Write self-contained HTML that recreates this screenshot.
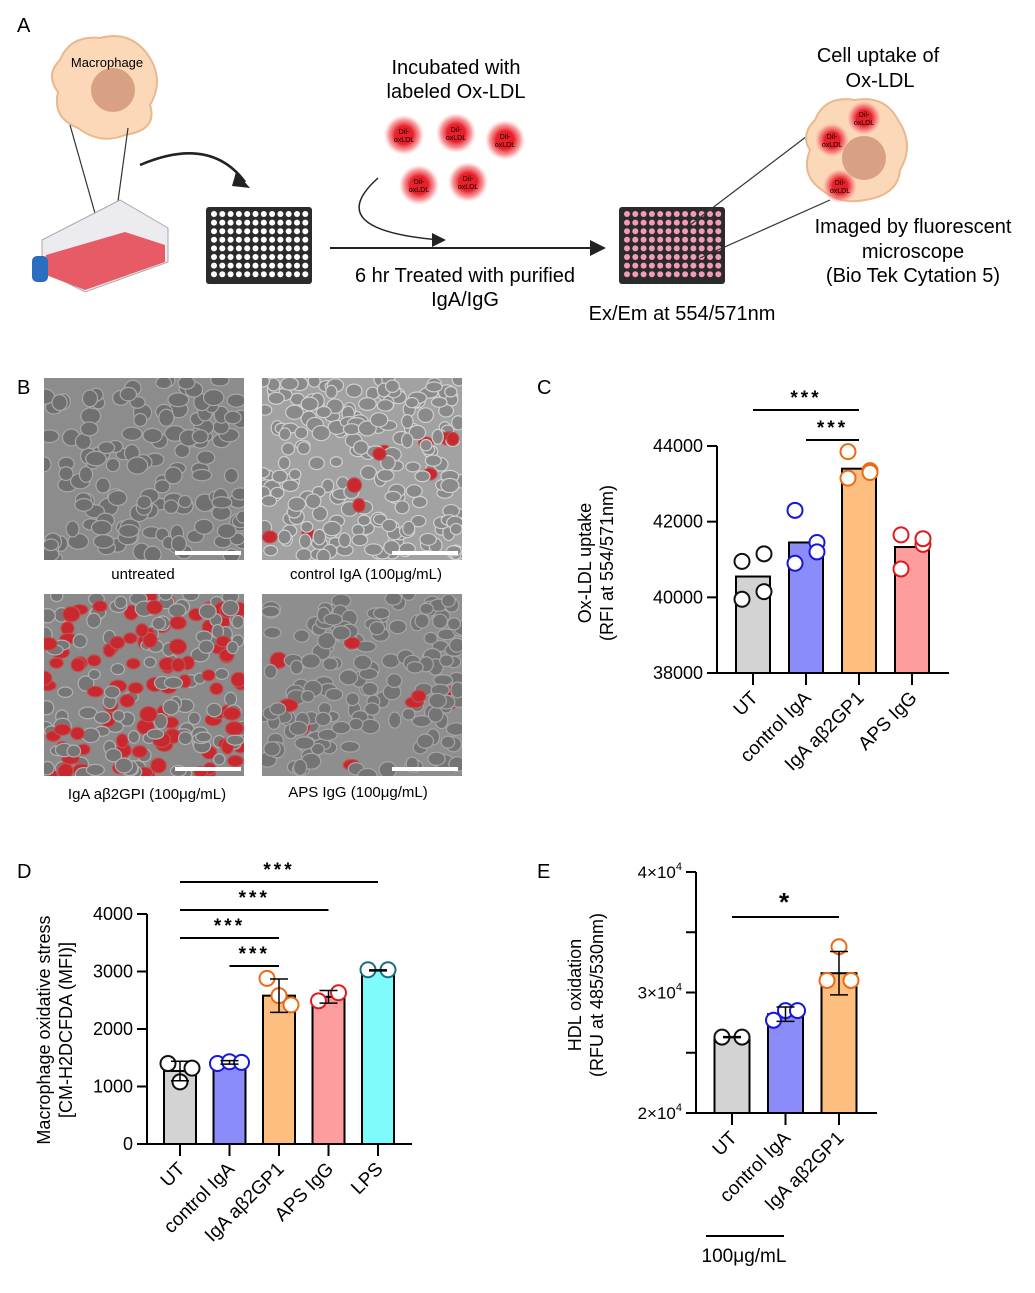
<!DOCTYPE html>
<html><head><meta charset="utf-8">
<style>
html,body{margin:0;padding:0;background:#fff;}
svg{display:block;font-family:"Liberation Sans",Arial,sans-serif;}
</style></head>
<body>
<svg id="fig" width="1035" height="1293" viewBox="0 0 1035 1293" xmlns="http://www.w3.org/2000/svg">
<defs>
  <radialGradient id="glow"><stop offset="0.45" stop-color="#e8202a"/><stop offset="0.75" stop-color="#f36a6f" stop-opacity="0.7"/><stop offset="1" stop-color="#ff9a9a" stop-opacity="0"/></radialGradient>
  <clipPath id="clip1"><rect x="44" y="378" width="200" height="182"/></clipPath>
  <clipPath id="clip2"><rect x="262" y="378" width="200" height="182"/></clipPath>
  <clipPath id="clip3"><rect x="44" y="594" width="200" height="182"/></clipPath>
  <clipPath id="clip4"><rect x="262" y="594" width="200" height="182"/></clipPath>
</defs>

<!-- Panel A -->
<text x="17" y="32" font-size="20">A</text>
<g>
  <path d="M60,60 Q70,35 100,38 Q130,30 148,55 Q165,80 150,105 Q158,130 125,135 Q100,145 78,128 Q52,118 58,92 Q45,75 60,60Z" fill="#fbd9b8" stroke="#e9b88f" stroke-width="2"/>
  <circle cx="113" cy="90" r="22" fill="#d9a184"/>
  <text x="107" y="67" font-size="13" text-anchor="middle">Macrophage</text>
</g>
<line x1="70" y1="125" x2="104" y2="245" stroke="#333" stroke-width="1.2"/>
<line x1="128" y1="128" x2="112" y2="245" stroke="#333" stroke-width="1.2"/>
<g>
  <path d="M42,240 L120,200 L168,228 L168,262 L85,292 L42,270Z" fill="#ebebf0" stroke="#aaa"/>
  <path d="M46,255 L125,232 L165,245 L165,262 L85,290 L46,275Z" fill="#e65b66"/>
  <rect x="32" y="256" width="16" height="26" rx="5" fill="#2a6fbf"/>
</g>
<path d="M140,165 Q210,135 245,182" fill="none" stroke="#222" stroke-width="2.5"/>
<polygon points="236,172 250,188 232,186" fill="#222"/>
<g>
  <rect x="206" y="207" width="106" height="77" rx="3" fill="#2b2b2b"/>
  <g id="wellsA"></g>
</g>
<text x="456" y="74" font-size="20" text-anchor="middle">Incubated with</text>
<text x="456" y="98" font-size="20" text-anchor="middle">labeled Ox-LDL</text>
<g font-size="7" text-anchor="middle">
  <circle cx="404" cy="135" r="20" fill="url(#glow)"/><text x="404" y="134">Dil-</text><text x="404" y="142">oxLDL</text>
  <circle cx="456" cy="133" r="20" fill="url(#glow)"/><text x="456" y="132">Dil-</text><text x="456" y="140">oxLDL</text>
  <circle cx="505" cy="140" r="20" fill="url(#glow)"/><text x="505" y="139">Dil-</text><text x="505" y="147">oxLDL</text>
  <circle cx="419" cy="185" r="20" fill="url(#glow)"/><text x="419" y="184">Dil-</text><text x="419" y="192">oxLDL</text>
  <circle cx="468" cy="182" r="20" fill="url(#glow)"/><text x="468" y="181">Dil-</text><text x="468" y="189">oxLDL</text>
</g>
<path d="M378,178 Q320,230 440,240" fill="none" stroke="#222" stroke-width="1.5"/>
<polygon points="432,233 446,240 432,247" fill="#222"/>
<line x1="330" y1="248" x2="595" y2="248" stroke="#222" stroke-width="2"/>
<polygon points="590,240 606,248 590,256" fill="#222"/>
<text x="465" y="282" font-size="20" text-anchor="middle">6 hr Treated with purified</text>
<text x="465" y="306" font-size="20" text-anchor="middle">IgA/IgG</text>
<g>
  <rect x="619" y="207" width="106" height="77" rx="3" fill="#2b2b2b"/>
  <g id="wellsB"></g>
</g>
<text x="682" y="320" font-size="20" text-anchor="middle">Ex/Em at 554/571nm</text>
<line x1="690" y1="225" x2="815" y2="130" stroke="#333" stroke-width="1.2"/>
<line x1="700" y1="258" x2="830" y2="200" stroke="#333" stroke-width="1.2"/>
<g>
  <path d="M815,120 Q825,95 855,100 Q885,95 898,120 Q915,145 900,170 Q898,195 865,200 Q840,205 822,190 Q800,175 810,150 Q800,135 815,120Z" fill="#fbd9b8" stroke="#e9b88f" stroke-width="2"/>
  <circle cx="864" cy="158" r="22" fill="#d9a184"/>
  <g font-size="7" text-anchor="middle">
    <circle cx="832" cy="140" r="17" fill="url(#glow)"/><text x="832" y="139">Dil-</text><text x="832" y="147">oxLDL</text>
    <circle cx="864" cy="118" r="17" fill="url(#glow)"/><text x="864" y="117">Dil-</text><text x="864" y="125">oxLDL</text>
    <circle cx="840" cy="186" r="17" fill="url(#glow)"/><text x="840" y="185">Dil-</text><text x="840" y="193">oxLDL</text>
  </g>
</g>
<text x="878" y="62" font-size="20" text-anchor="middle">Cell uptake of</text>
<text x="880" y="87" font-size="20" text-anchor="middle">Ox-LDL</text>
<text x="913" y="233" font-size="20" text-anchor="middle">Imaged by fluorescent</text>
<text x="913" y="258" font-size="20" text-anchor="middle">microscope</text>
<text x="913" y="282" font-size="20" text-anchor="middle">(Bio Tek Cytation 5)</text>

<!-- Panel B -->
<text x="17" y="394" font-size="20">B</text>
<g id="img1" clip-path="url(#clip1)"></g>
<rect x="175" y="551" width="66" height="4" fill="#fff"/>
<text x="143" y="579" font-size="15" text-anchor="middle">untreated</text>
<g id="img2" clip-path="url(#clip2)"></g>
<rect x="392" y="551" width="66" height="4" fill="#fff"/>
<text x="366" y="579" font-size="15" text-anchor="middle">control IgA (100μg/mL)</text>
<g id="img3" clip-path="url(#clip3)"></g>
<rect x="175" y="767" width="66" height="4" fill="#fff"/>
<text x="147" y="799" font-size="15" text-anchor="middle">IgA aβ2GPI (100μg/mL)</text>
<g id="img4" clip-path="url(#clip4)"></g>
<rect x="392" y="767" width="66" height="4" fill="#fff"/>
<text x="358" y="797" font-size="15" text-anchor="middle">APS IgG (100μg/mL)</text>

<!-- Panel labels -->
<text x="537" y="394" font-size="20">C</text>
<text x="17" y="878" font-size="20">D</text>
<text x="537" y="878" font-size="20">E</text>

<g id="chartC"></g>
<g id="chartD"></g>
<g id="chartE"></g>
</svg>

<script>
// ===== Chart C data =====
const cCategories = ["UT", "control IgA", "IgA aβ2GP1", "APS IgG"];
const cMeans = [40550, 41450, 43400, 41330];
const cPoints = [[40950, 41150, 39950, 40150], [42300, 41450, 40900, 41200], [43850, 43350, 43150, 43300], [41650, 41400, 40750, 41550]];
const cTicks = [38000, 40000, 42000, 44000];
// ===== Chart D data =====
const dCategories = ["UT", "control IgA", "IgA aβ2GP1", "APS IgG", "LPS"];
const dMeans = [1270, 1420, 2580, 2560, 3020];
const dSD = [170, 30, 290, 110, 0];
const dPoints = [[1400, 1080, 1320], [1400, 1430, 1420], [2880, 2580, 2420], [2490, 2630], [3030, 3030]];
const dTicks = [0, 1000, 2000, 3000, 4000];
// ===== Chart E data =====
const eCategories = ["UT", "control IgA", "IgA aβ2GP1"];
const eMeans = [26300, 28200, 31600];
const eSD = [0, 600, 1800];
const ePoints = [[26300, 26300], [27700, 28500, 28500], [31000, 33800, 31000]];
const eTicks = [20000, 25000, 30000, 35000, 40000];
const eTickLabels = ["2×10", "", "3×10", "", "4×10"];

const fills = ["#d3d3d3", "#8b8cf9", "#fdbe7f", "#fd9d9d", "#80fbfb"];
const strokes = ["#111", "#1818d8", "#ec6a14", "#e01a1a", "#1a6f7f"];
const NS = "http://www.w3.org/2000/svg";
function mk(parent, tag, attrs, txt) {
  const e = document.createElementNS(NS, tag);
  for (const k in attrs) e.setAttribute(k, attrs[k]);
  if (txt !== undefined) e.textContent = txt;
  parent.appendChild(e);
  return e;
}

// wells in panel A
(function () {
  const wa = document.getElementById("wellsA"), wb = document.getElementById("wellsB");
  for (let r = 0; r < 8; r++) for (let c = 0; c < 12; c++) {
    mk(wa, "circle", { cx: 214 + c * 8.3, cy: 214 + r * 8.6, r: 3, fill: "#fff" });
    mk(wb, "circle", { cx: 627 + c * 8.3, cy: 214 + r * 8.6, r: 3, fill: "#f39ab8" });
  }
})();

// micrograph textures (decorative, seeded)
(function () {
  let s = 12345;
  const rnd = () => { s = (s * 1103515245 + 12345) % 2147483648; return s / 2147483648; };
  const imgs = [
    { id: "img1", x: 44, y: 378, bg: "#8c8c8c", cell: "#707070", edge: "#a8a8a8", red: 0, n: 150, r: 8 },
    { id: "img2", x: 262, y: 378, bg: "#a2a2a2", cell: "#8a8a8a", edge: "#d0d0d0", red: 0.04, n: 220, r: 7 },
    { id: "img3", x: 44, y: 594, bg: "#8a8a8a", cell: "#767676", edge: "#b0b0b0", red: 0.5, n: 210, r: 7 },
    { id: "img4", x: 262, y: 594, bg: "#8e8e8e", cell: "#747474", edge: "#a6a6a6", red: 0.03, n: 180, r: 7.5 }
  ];
  imgs.forEach(im => {
    const g = document.getElementById(im.id);
    mk(g, "rect", { x: im.x, y: im.y, width: 200, height: 182, fill: im.bg });
    for (let i = 0; i < im.n; i++) {
      const cx = im.x + rnd() * 200, cy = im.y + rnd() * 182;
      const isRed = rnd() < im.red;
      mk(g, "ellipse", { cx, cy, rx: im.r * (0.8 + rnd() * 0.5), ry: im.r * (0.7 + rnd() * 0.4),
        fill: isRed ? "#c8282e" : im.cell, stroke: isRed ? "#b55" : im.edge, "stroke-width": 1.2 });
    }
  });
})();

function drawChart(g, o) {
  const y = v => o.y0 - (v - o.vmin) * (o.y0 - o.y1) / (o.vmax - o.vmin);
  const x = i => o.x0 + i * o.step;
  const ya = mk(g, "line", { x1: o.ax, y1: y(o.vmax), x2: o.ax, y2: o.y0, stroke: "#000", "stroke-width": 2 });
  
  
  const xa = mk(g, "line", { x1: o.ax, y1: o.y0, x2: o.axEnd, y2: o.y0, stroke: "#000", "stroke-width": 2 });
  
  
  o.ticks.forEach((t, k) => {
    mk(g, "line", { x1: o.ax - 10, y1: y(t), x2: o.ax, y2: y(t), stroke: "#000", "stroke-width": 2 });
    const lab = o.tickLabels ? o.tickLabels[k] : String(t);
    if (lab) {
      const tl = mk(g, "text", { x: o.ax - 14, y: y(t) + 6, "font-size": o.tickFont || 18, "text-anchor": "end" }, lab);
      
      
      if (o.tickLabels) { mk(tl, "tspan", { "font-size": 11, dy: -8 }, "4"); }
    }
  });
  o.cats.forEach((c, i) => {
    const cx = x(i);
    const b = mk(g, "rect", { x: cx - o.bw / 2, y: y(o.means[i]), width: o.bw, height: o.y0 - y(o.means[i]), fill: fills[i], stroke: "#000", "stroke-width": 2 });
    
    
    mk(g, "line", { x1: cx, y1: o.y0, x2: cx, y2: o.y0 + 12, stroke: "#000", "stroke-width": 2 });
    const pts = o.points[i], n = pts.length;
    pts.forEach((v, j) => {
      const off = n === 2 ? (j === 0 ? -10 : 10) : n === 3 ? (j - 1) * 12 : [-11, 11, -11, 11][j];
      const p = mk(g, "circle", { cx: cx + off, cy: y(v), r: 7.5, fill: "#fff", stroke: strokes[i], "stroke-width": 2 });
      
      
    });
    if (o.sd) {
      const sd = o.sd[i];
      if (sd > 0) {
        mk(g, "line", { x1: cx, y1: y(o.means[i] + sd), x2: cx, y2: y(o.means[i] - sd), stroke: "#000", "stroke-width": 1.5 });
        mk(g, "line", { x1: cx - 9, y1: y(o.means[i] + sd), x2: cx + 9, y2: y(o.means[i] + sd), stroke: "#000", "stroke-width": 1.5 });
        mk(g, "line", { x1: cx - 9, y1: y(o.means[i] - sd), x2: cx + 9, y2: y(o.means[i] - sd), stroke: "#000", "stroke-width": 1.5 });
      } else {
        mk(g, "line", { x1: cx - 9, y1: y(o.means[i]), x2: cx + 9, y2: y(o.means[i]), stroke: "#000", "stroke-width": 2.5 });
      }
    }
    const lt = mk(g, "text", { x: cx + 6, y: o.y0 + 26, "font-size": 19, "text-anchor": "end", transform: `rotate(-45 ${cx + 6} ${o.y0 + 26})` }, c);
    
    
  });
  const [tx, ty] = o.titlePos;
  const t1 = mk(g, "text", { x: tx, y: ty, "font-size": 18, "text-anchor": "middle", transform: `rotate(-90 ${tx} ${ty})` }, o.title1);
  
  
  const t2 = mk(g, "text", { x: tx + 22, y: ty, "font-size": 18, "text-anchor": "middle", transform: `rotate(-90 ${tx + 22} ${ty})` }, o.title2);
  
  
  o.sig.forEach(s => {
    const l = mk(g, "line", { x1: x(s[0]), y1: s[2], x2: x(s[1]), y2: s[2], stroke: "#000", "stroke-width": 2 });
    
    
    const st = mk(g, "text", { x: (x(s[0]) + x(s[1])) / 2, y: s[2] - 6, "font-size": s[3].length === 1 ? 26 : 19, "text-anchor": "middle", "font-weight": "bold", "letter-spacing": "3" }, s[3]);
    
    
  });
}

drawChart(document.getElementById("chartC"), {
  cats: cCategories, means: cMeans, points: cPoints, ticks: cTicks,
  vmin: 38000, vmax: 44000, y0: 673, y1: 446, ax: 717, axEnd: 949, x0: 753, step: 53, bw: 34,
  title1: "Ox-LDL uptake", title2: "(RFI at 554/571nm)", titlePos: [591, 563],
  sig: [[0, 2, 410, "***"], [1, 2, 440, "***"]]
});
drawChart(document.getElementById("chartD"), {
  cats: dCategories, means: dMeans, sd: dSD, points: dPoints, ticks: dTicks,
  vmin: 0, vmax: 4000, y0: 1144, y1: 914, ax: 147, axEnd: 412, x0: 180, step: 49.5, bw: 32,
  title1: "Macrophage oxidative stress", title2: "[CM-H2DCFDA (MFI)]", titlePos: [50, 1030],
  sig: [[0, 4, 882, "***"], [0, 3, 910, "***"], [0, 2, 938, "***"], [1, 2, 966, "***"]]
});
drawChart(document.getElementById("chartE"), {
  cats: eCategories, means: eMeans, sd: eSD, points: ePoints, ticks: eTicks, tickLabels: eTickLabels, tickFont: 17,
  vmin: 20000, vmax: 40000, y0: 1113, y1: 872, ax: 696, axEnd: 877, x0: 732, step: 53.5, bw: 35,
  title1: "HDL oxidation", title2: "(RFU at 485/530nm)", titlePos: [581, 995],
  sig: [[0, 2, 917, "*"]]
});
(function () {
  const g = document.getElementById("chartE");
  const l = mk(g, "line", { x1: 706, y1: 1236, x2: 784, y2: 1236, stroke: "#000", "stroke-width": 2 });
  
  
  const t = mk(g, "text", { x: 744, y: 1262, "font-size": 19, "text-anchor": "middle" }, "100μg/mL");
  
  
})();
</script>
</body></html>
